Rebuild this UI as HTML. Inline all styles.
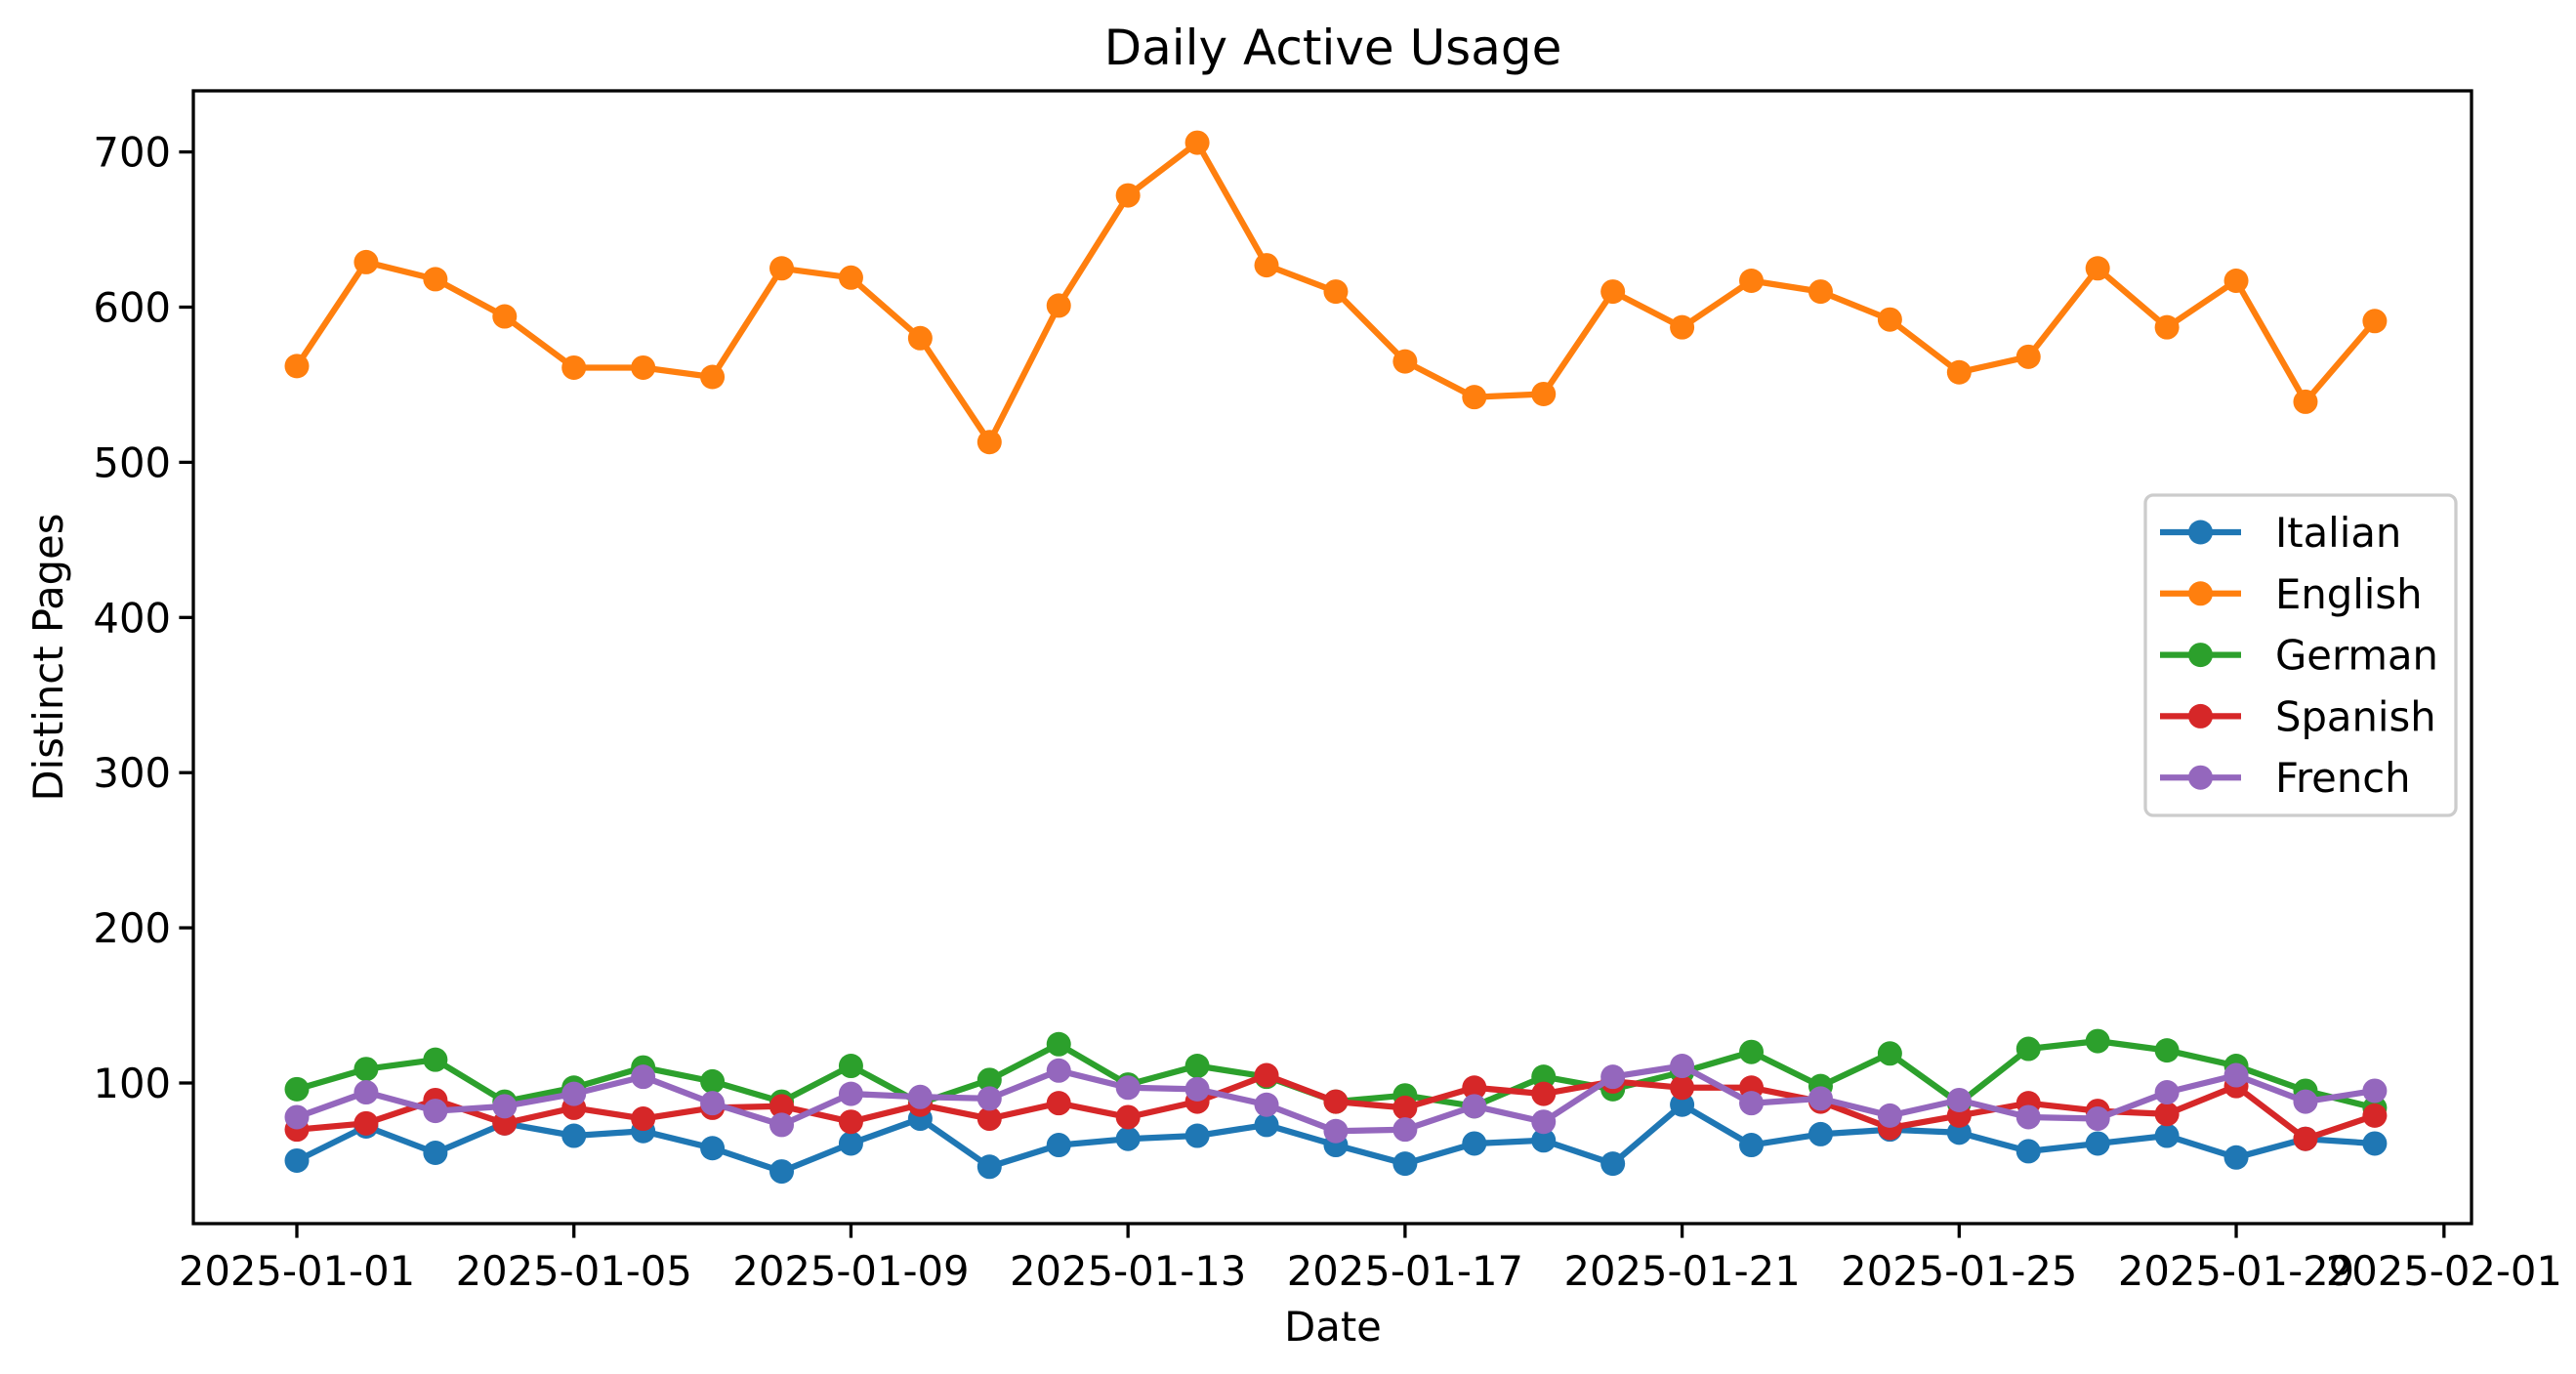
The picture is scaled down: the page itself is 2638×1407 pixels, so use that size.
<!DOCTYPE html>
<html><head><meta charset="utf-8"><style>
html,body{margin:0;padding:0;background:#fff;}
svg{display:block;font-family:"DejaVu Sans","Liberation Sans",sans-serif;}
</style></head><body>
<svg id="chart" width="2638" height="1407" viewBox="0 0 2638 1407" xmlns="http://www.w3.org/2000/svg">
<rect width="2638" height="1407" fill="#fff"/>
<text x="1365" y="66" font-size="50" text-anchor="middle" fill="#000">Daily Active Usage</text>
<text x="1365" y="1373" font-size="41.7" text-anchor="middle" fill="#000">Date</text>
<text x="0" y="0" font-size="41.7" text-anchor="middle" fill="#000" transform="translate(64,673) rotate(-90)">Distinct Pages</text>
<g id="series"></g>
<g id="axes"></g>
<g id="legend"></g>
</svg>
<script>
const dayIndex = [0,1,2,3,4,5,6,7,8,9,10,11,12,13,14,15,16,17,18,19,20,21,22,23,24,25,26,27,28,29,30];
const italian = [50,72,55,74,66,69,58,43,61,77,46,60,64,66,73,60,48,61,63,48,86,60,67,70,68,56,61,66,52,64,61];
const english = [562,629,618,594,561,561,555,625,619,580,513,601,672,706,627,610,565,542,544,610,587,617,610,592,558,568,625,587,617,539,591];
const german = [96,109,115,88,97,110,101,88,111,87,102,125,99,111,104,88,92,85,104,96,107,120,98,119,87,122,127,121,111,95,84];
const spanish = [70,74,89,74,84,77,84,85,75,86,77,87,78,88,105,88,84,97,93,101,97,97,88,71,79,87,82,80,98,64,79];
const french = [78,94,82,85,93,104,87,73,93,91,90,108,97,96,86,69,70,85,75,104,111,87,90,79,89,78,77,94,105,88,95];
const seriesNames = ["Italian","English","German","Spanish","French"];
const yTicks = [100,200,300,400,500,600,700];
const xTickDays = [0,4,8,12,16,20,24,28,31];
const xTickLabels = ["2025-01-01","2025-01-05","2025-01-09","2025-01-13","2025-01-17","2025-01-21","2025-01-25","2025-01-29","2025-02-01"];

const NS="http://www.w3.org/2000/svg";
const L=198,R=2531,T=93,B=1253;
const x0=304, dayW=70.93;
const yv100=1109, pxPer=1.589;
function xs(d){return x0+d*dayW;}
function ys(v){return yv100-(v-100)*pxPer;}
function mk(tag,attrs,parent){const e=document.createElementNS(NS,tag);for(const k in attrs)e.setAttribute(k,attrs[k]);parent.appendChild(e);return e;}

const colors=["#1f77b4","#ff7f0e","#2ca02c","#d62728","#9467bd"];
const allSeries=[italian,english,german,spanish,french];
const sg=document.getElementById('series');
allSeries.forEach((vals,si)=>{
  const g=mk('g',{},sg);
  
  
  const pts=vals.map((v,i)=>xs(dayIndex[i]).toFixed(1)+','+ys(v).toFixed(1)).join(' ');
  const pl=mk('polyline',{points:pts,fill:'none',stroke:colors[si],'stroke-width':6.25,'stroke-linejoin':'round','stroke-linecap':'square'},g);
  
  
  vals.forEach((v,i)=>{
    const c=mk('circle',{cx:xs(dayIndex[i]),cy:ys(v),r:12.5,fill:colors[si]},g);
    
    
  });
});

const ag=document.getElementById('axes');
const frame=mk('rect',{x:L,y:T,width:R-L,height:B-T,fill:'none',stroke:'#000','stroke-width':3.3},ag);


yTicks.forEach(v=>{
  const y=ys(v);
  const t=mk('line',{x1:L-14.6,x2:L,y1:y,y2:y,stroke:'#000','stroke-width':3.3},ag);
  
  
  const tx=mk('text',{x:L-23,y:y+15,'font-size':41.7,'text-anchor':'end',fill:'#000'},ag);
  tx.textContent=v;
  
  
});
xTickDays.forEach((d,i)=>{
  const x=xs(d);
  const t=mk('line',{x1:x,x2:x,y1:B,y2:B+14.6,stroke:'#000','stroke-width':3.3},ag);
  
  
  const tx=mk('text',{x:x,y:B+63,'font-size':41.7,'text-anchor':'middle',fill:'#000'},ag);
  tx.textContent=xTickLabels[i];
  
  
});

const lg=document.getElementById('legend');
const box=mk('rect',{x:2197,y:507,width:318,height:328,rx:8,fill:'#fff','fill-opacity':0.8,stroke:'#cccccc','stroke-width':3.3},lg);


seriesNames.forEach((n,i)=>{
  const y=545+i*62.8;
  const g=mk('g',{},lg);
  
  
  mk('line',{x1:2212,x2:2295,y1:y,y2:y,stroke:colors[i],'stroke-width':6.25},g);
  mk('circle',{cx:2253.5,cy:y,r:12.5,fill:colors[i]},g);
  const tx=mk('text',{x:2330,y:y+15,'font-size':41.7,fill:'#000'},g);
  tx.textContent=n;
  
  
});
</script>
</body></html>
